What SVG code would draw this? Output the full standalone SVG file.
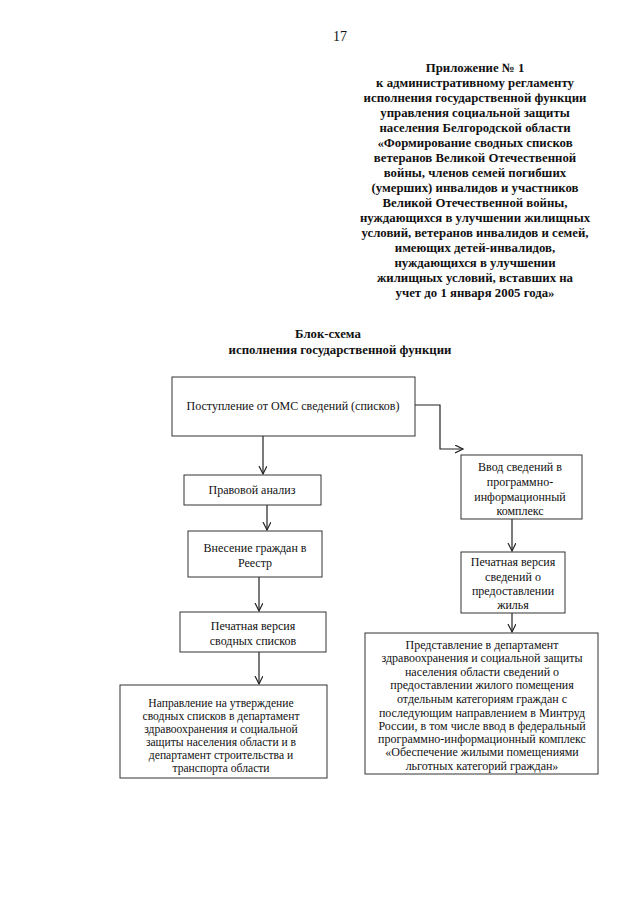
<svg xmlns="http://www.w3.org/2000/svg" width="640" height="905" viewBox="0 0 640 905">
<style>
text{font-family:"Liberation Serif","Times New Roman",serif;fill:#111}
.h{font-size:12.8px;font-weight:bold;text-anchor:middle}
.t{font-size:12px;text-anchor:middle}
.s{font-size:11.6px;text-anchor:middle}
rect{fill:#fff;stroke:#333;stroke-width:1}
.c{fill:none;stroke:#222;stroke-width:1.2}
</style>
<defs>
<marker id="a" markerWidth="10" markerHeight="10" refX="8" refY="4" orient="auto" markerUnits="userSpaceOnUse">
<path d="M0,0 L8,4 L0,8" fill="none" stroke="#222" stroke-width="1.2"/>
</marker>
</defs>
<rect x="0" y="0" width="640" height="905" style="fill:#fff;stroke:none"/>
<text x="340" y="41" style="font-size:14px;text-anchor:middle">17</text>
<g id="header">
<text x="475" y="72" class="h">Приложение № 1</text>
<text x="475" y="87" class="h">к административному регламенту</text>
<text x="475" y="102" class="h">исполнения государственной функции</text>
<text x="475" y="117" class="h">управления социальной защиты</text>
<text x="475" y="132" class="h">населения  Белгородской области</text>
<text x="475" y="147" class="h">«Формирование сводных списков</text>
<text x="475" y="162" class="h">ветеранов Великой Отечественной</text>
<text x="475" y="177" class="h">войны, членов семей погибших</text>
<text x="475" y="192" class="h">(умерших) инвалидов и участников</text>
<text x="475" y="207" class="h">Великой Отечественной войны,</text>
<text x="475" y="222" class="h">нуждающихся в улучшении жилищных</text>
<text x="475" y="237" class="h">условий, ветеранов  инвалидов и семей,</text>
<text x="475" y="252" class="h">имеющих детей-инвалидов,</text>
<text x="475" y="267" class="h">нуждающихся в улучшении</text>
<text x="475" y="282" class="h">жилищных условий, вставших на</text>
<text x="475" y="297" class="h">учет до 1 января 2005 года»</text>
</g>
<g id="title">
<text x="328" y="338" class="h">Блок-схема</text>
<text x="340" y="354" class="h">исполнения государственной функции</text>
</g>
<g id="connectors">
<line class="c" x1="263" y1="436" x2="263" y2="474" marker-end="url(#a)"/>
<line class="c" x1="267" y1="505" x2="267" y2="530" marker-end="url(#a)"/>
<line class="c" x1="259" y1="577" x2="259" y2="611" marker-end="url(#a)"/>
<line class="c" x1="259" y1="652" x2="259" y2="684" marker-end="url(#a)"/>
<path class="c" d="M415,405 H440 V449 H463" marker-end="url(#a)"/>
<line class="c" x1="512" y1="519" x2="512" y2="551" marker-end="url(#a)"/>
<line class="c" x1="512" y1="613" x2="512" y2="632" marker-end="url(#a)"/>
</g>
<g id="n1">
<rect x="172" y="377" width="243" height="59"/>
<text x="293" y="410" class="t">Поступление от ОМС сведений (списков)</text>
</g>
<g id="n2">
<rect x="184" y="475" width="137" height="30"/>
<text x="252" y="494" class="t">Правовой анализ</text>
</g>
<g id="n3">
<rect x="188" y="531" width="134" height="46"/>
<text x="255" y="552" class="t">Внесение граждан в</text>
<text x="255" y="567" class="t">Реестр</text>
</g>
<g id="n4">
<rect x="180" y="612" width="146" height="40"/>
<text x="253" y="630" class="t">Печатная версия</text>
<text x="253" y="645" class="t">сводных списков</text>
</g>
<g id="n5">
<rect x="120" y="685" width="207" height="93"/>
<text x="221" y="707" class="s">Направление на утверждение</text>
<text x="221" y="720" class="s">сводных списков в департамент</text>
<text x="221" y="733" class="s">здравоохранения и социальной</text>
<text x="221" y="746" class="s">защиты населения области и в</text>
<text x="221" y="759" class="s">департамент строительства и</text>
<text x="221" y="772" class="s">транспорта области</text>
</g>
<g id="r1">
<rect x="461" y="455" width="121" height="64"/>
<text x="520" y="471" class="t">Ввод сведений в</text>
<text x="520" y="486" class="t">программно-</text>
<text x="520" y="501" class="t">информационный</text>
<text x="520" y="515" class="t">комплекс</text>
</g>
<g id="r2">
<rect x="461" y="552" width="104" height="61"/>
<text x="513" y="566" class="t">Печатная версия</text>
<text x="513" y="581" class="t">сведений о</text>
<text x="513" y="595" class="t">предоставлении</text>
<text x="513" y="609" class="t">жилья</text>
</g>
<g id="r3">
<rect x="365" y="633" width="233" height="141"/>
<text x="482" y="649" class="t">Представление в департамент</text>
<text x="482" y="662" class="t">здравоохранения и социальной защиты</text>
<text x="482" y="676" class="t">населения области сведений о</text>
<text x="482" y="689" class="t">предоставлении жилого помещения</text>
<text x="482" y="703" class="t">отдельным категориям граждан с</text>
<text x="482" y="717" class="t">последующим направлением в Минтруд</text>
<text x="482" y="730" class="t">России, в том числе ввод в федеральный</text>
<text x="482" y="743" class="t">программно-информационный комплекс</text>
<text x="482" y="756" class="t">«Обеспечение жилыми помещениями</text>
<text x="482" y="770" class="t">льготных категорий граждан»</text>
</g>
</svg>
